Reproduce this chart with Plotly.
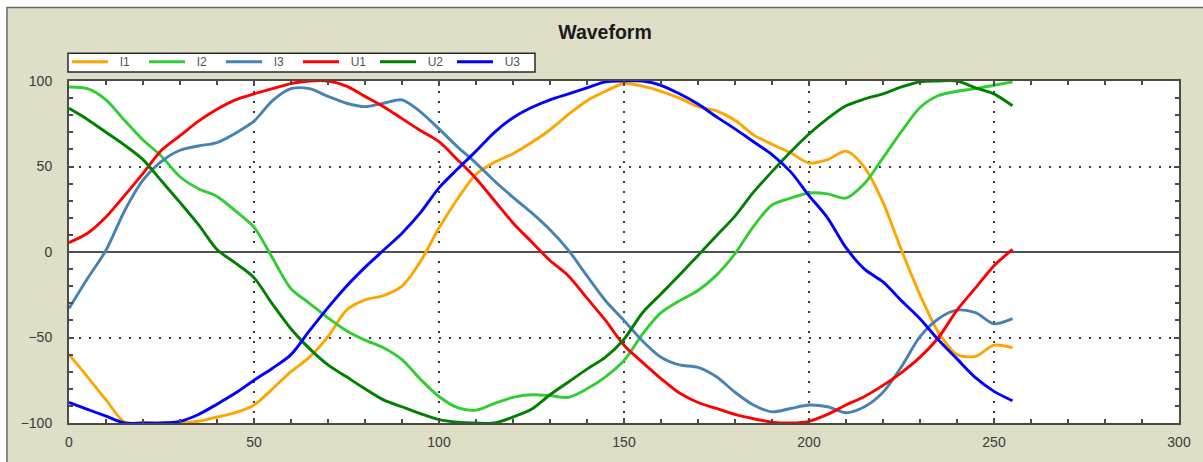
import plotly.graph_objects as go

# Sample positions (one reading every 5 samples)
sample = [0, 5, 10, 15, 20, 25, 30, 35, 40, 45, 50, 55, 60, 65, 70, 75, 80, 85, 90, 95,
          100, 105, 110, 115, 120, 125, 130, 135, 140, 145, 150, 155, 160, 165, 170, 175,
          180, 185, 190, 195, 200, 205, 210, 215, 220, 225, 230, 235, 240, 245, 250, 255]

# Phase currents
i1 = [-60, -73, -86.5, -99.5, -100, -100, -100, -99, -96.5, -94, -89.5, -80, -70, -61.5,
      -49.5, -34, -28, -25.5, -20, -5.5, 14, 31, 45.5, 52.5, 57.5, 64, 71.5, 80.5, 88.5,
      94, 98.5, 97, 94, 90, 85, 82.5, 77, 68.5, 63, 58, 52, 54, 59, 49.5, 29, 1, -25,
      -47, -60, -61, -54.5, -56]
i2 = [96.5, 95.5, 89, 77, 65.5, 56, 44, 37, 32.5, 24, 14.5, -3.5, -21.5, -30, -38.5,
      -46, -51.5, -56, -63, -74.5, -84.5, -91, -92.5, -88.5, -85, -83.5, -84, -85, -80,
      -73, -63.5, -48, -35.5, -28.5, -22.5, -13.5, -1, 15, 27.5, 31.5, 34.5, 34, 31.5,
      40, 55, 70.5, 84.5, 91.5, 94, 95.5, 97.5, 99.5]
i3 = [-33, -15.5, 1, 24, 42, 53, 59.5, 62, 64, 69.5, 76.5, 88.5, 95.5, 95.5, 91, 87, 85,
      87, 89, 82, 72, 61.5, 52, 41.5, 32, 23, 13, 1, -14, -28.5, -40, -52, -61.5, -66,
      -67.5, -73, -82, -89.5, -93.5, -91.5, -89.5, -90.5, -94, -90.5, -82, -67, -49.5,
      -39, -34, -35.5, -42, -39]

# Phase voltages
u1 = [5.5, 11, 20.5, 33, 46, 59.5, 68, 76.5, 83.5, 89, 92.5, 95.5, 98.5, 100, 100, 97,
      91, 85, 78, 71, 64.5, 54, 43, 30, 17, 6, -5, -14, -27, -40, -54.5, -64.5, -74,
      -82.5, -88, -91.5, -95, -97.5, -99.5, -100, -99, -95, -89.5, -84.5, -78, -70.5,
      -61.5, -50, -34, -21, -8, 1.5]
u2 = [84, 77.5, 70, 62.5, 54, 41.5, 29, 16, 1.5, -6.5, -15, -30.5, -45, -56.5, -66, -73,
      -80, -86.5, -90.5, -94.5, -98, -99.5, -100, -100, -96.5, -92, -83.5, -76, -68.5,
      -61.5, -51, -35.5, -24.5, -13.5, -2, 9.5, 21, 35, 47, 58.5, 69, 78, 85.5, 89.5,
      92.5, 96.5, 99.5, 100, 100, 96, 92.5, 85.5]
u3 = [-88, -92, -96, -100, -100, -100, -99, -95, -89, -82.5, -75, -68, -60, -46, -32.5,
      -20, -9, 1, 11, 23, 37.5, 48.5, 59, 70, 78.5, 84.5, 89, 92.5, 96, 99.5, 100, 100,
      97.5, 92.5, 86.5, 79, 72, 64.5, 57, 47, 33, 20, 2.5, -10, -17.5, -28.5, -39,
      -51.5, -62.5, -73.5, -81.5, -87]

series = [
    ("I1", i1, "#FFA500"),
    ("I2", i2, "#32CD32"),
    ("I3", i3, "#4682B4"),
    ("U1", u1, "#FF0000"),
    ("U2", u2, "#008000"),
    ("U3", u3, "#0000FF"),
]

x_ticks = [0, 50, 100, 150, 200, 250, 300]
y_ticks = [-100, -50, 0, 50, 100]

PANEL = "#DFDEC6"
AXIS = "#4a4a4a"
FONT = "Liberation Sans, Arial, sans-serif"
NBSP = "\u00a0"

fig = go.Figure()
for name, vals, color in series:
    fig.add_trace(go.Scatter(
        x=sample, y=vals, name=NBSP * 2 + name, mode="lines",
        line=dict(color=color, width=2.9, shape="spline", smoothing=0.8),
    ))

W, H = 1203, 462
ML, MR, MT, MB = 69, 24, 81, 37
pw, ph = W - ML - MR, H - MT - MB


def px_x(p):
    return (p - ML) / pw


def px_y(p):
    return (H - MB - p) / ph


axis_common = dict(
    showline=True, linecolor=AXIS, linewidth=2, mirror="ticks",
    ticks="inside", ticklen=5, tickwidth=1.5, tickcolor=AXIS,
    showgrid=True, gridcolor="#3a3a3a", gridwidth=1.5, griddash="2px,8px",
    tickfont=dict(family=FONT, size=14, color="#3a3a3a"),
    fixedrange=True,
)

minor_ticks = dict(dtick=10, ticks="inside", ticklen=4, tickcolor=AXIS,
                   tickwidth=1.5, showgrid=False)

fig.update_layout(
    width=W, height=H,
    margin=dict(l=ML, r=MR, t=MT, b=MB, pad=0),
    paper_bgcolor=PANEL,
    plot_bgcolor="white",
    title=dict(text="<b>Waveform</b>", x=px_x(605), xanchor="center", xref="paper",
               y=1 - 32 / H, yanchor="middle",
               font=dict(family=FONT, size=19.5, color="#1a1a1a")),
    showlegend=True,
    legend=dict(
        orientation="h", x=px_x(67), y=px_y(47), xanchor="left", yanchor="top",
        bgcolor="rgba(0,0,0,0)", borderwidth=0,
        font=dict(family=FONT, size=12, color="#555555"),
        itemwidth=36, entrywidth=26, entrywidthmode="pixels",
        tracegroupgap=0, itemclick=False, itemdoubleclick=False,
    ),
    xaxis=dict(range=[0, 300], tickvals=x_ticks, zeroline=False,
               ticklabelstandoff=5, minor=minor_ticks, **axis_common),
    yaxis=dict(range=[-100, 100], tickvals=y_ticks, zeroline=True,
               zerolinecolor="#505050", zerolinewidth=2, ticklabelstandoff=12,
               minor=minor_ticks, **axis_common),
    shapes=[
        # white page margin above and left of the chart panel
        dict(type="rect", xref="paper", yref="paper",
             x0=px_x(-10), x1=px_x(W + 10), y0=px_y(7), y1=px_y(-10),
             fillcolor="white", line=dict(width=0)),
        dict(type="rect", xref="paper", yref="paper",
             x0=px_x(-10), x1=px_x(7), y0=px_y(H + 10), y1=px_y(-10),
             fillcolor="white", line=dict(width=0)),
        # panel frame
        dict(type="rect", xref="paper", yref="paper",
             x0=px_x(7), x1=px_x(W + 20), y0=px_y(H + 20), y1=px_y(7),
             fillcolor="rgba(0,0,0,0)", line=dict(color="#6a6a6a", width=1.5)),
        # legend box
        dict(type="rect", xref="paper", yref="paper",
             x0=px_x(68), x1=px_x(535), y0=px_y(72), y1=px_y(53),
             fillcolor="white", line=dict(color="#2a2a2a", width=1.5)),
    ],
)

fig.write_html("out.html", config={"displayModeBar": False})
